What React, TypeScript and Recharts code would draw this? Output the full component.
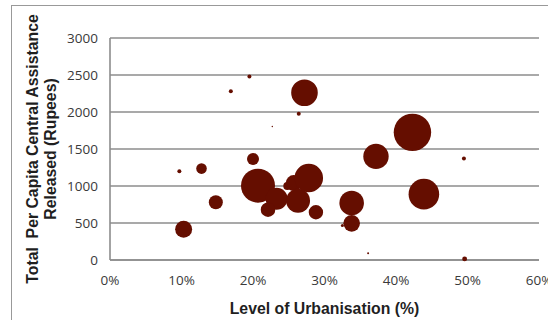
import React from 'react';
import { ScatterChart, Scatter, XAxis, YAxis, ZAxis, CartesianGrid, Label } from 'recharts';

// Level of urbanisation (%)
const urbanisation = [9.7, 12.8, 14.8, 10.3, 16.9, 19.5, 20.0, 20.7, 22.7, 27.2, 26.4, 23.3, 22.1, 24.8, 25.7, 26.3, 27.8, 28.8, 37.2, 42.3, 43.9, 33.8, 33.8, 32.5, 36.1, 49.5, 49.6];
// Total per capita central assistance released (Rupees)
const assistance = [1200, 1235, 780, 415, 2280, 2480, 1365, 1005, 1805, 2260, 1975, 828, 680, 1000, 1040, 800, 1108, 645, 1400, 1725, 890, 770, 495, 465, 90, 1370, 15];
// Bubble size (relative weight)
const bubbleSize = [4, 28, 49, 72, 4, 4, 36, 289, 0.5, 177, 4, 121, 53, 16, 64, 144, 204, 52, 161, 350, 234, 151, 69, 2.3, 1, 4, 6];

const xTicks = [0, 10, 20, 30, 40, 50, 60];
const yTicks = [0, 500, 1000, 1500, 2000, 2500, 3000];

const yTitleLine1 = 'Total  Per Capita Central Assistance';
const yTitleLine2 = 'Released (Rupees)';
const xTitle = 'Level of Urbanisation (%)';

const data = urbanisation.map((x, i) => ({ x, y: assistance[i], z: bubbleSize[i] }));

const BUBBLE = '#650e00';
const GRID = '#8c8c8c';
const titleStyle: React.CSSProperties = {
  fontFamily: '"Liberation Sans", Arial, sans-serif',
  fontWeight: 'bold',
  fontSize: 15.8,
  fill: '#1f1f1f',
  whiteSpace: 'pre',
};

const YTitle = (props: any) => {
  const vb = props.viewBox || {};
  const cy = (vb.y ?? 38) + (vb.height ?? 222) / 2;
  return (
    <g>
      <text transform={`translate(37.5, ${cy}) rotate(-90)`} textAnchor="middle" style={titleStyle} xmlSpace="preserve">
        {yTitleLine1}
      </text>
      <text transform={`translate(55.5, ${cy}) rotate(-90)`} textAnchor="middle" style={titleStyle}>
        {yTitleLine2}
      </text>
    </g>
  );
};

const XTitle = (props: any) => {
  const vb = props.viewBox || {};
  const cx = (vb.x ?? 110) + (vb.width ?? 429) / 2;
  return (
    <text x={cx} y={314} textAnchor="middle" style={titleStyle}>
      {xTitle}
    </text>
  );
};

const tickStyle = { fontFamily: '"Open Sans", sans-serif', fontSize: 13.5, fill: '#3a3a3a' };

export default function App() {
  return (
    <div style={{ position: 'absolute', left: 0, top: 0, width: 548, height: 320, overflow: 'hidden', background: '#fff' }}>
      <div
        style={{
          position: 'absolute',
          left: 11,
          top: 5,
          width: 700,
          height: 500,
          border: '1.5px solid #999',
          boxSizing: 'border-box',
        }}
      />
      <div style={{ position: 'absolute', left: 0, top: 0 }}>
        <ScatterChart width={548} height={320} margin={{ top: 38, right: 9, bottom: 0, left: 0 }}>
          <CartesianGrid vertical={false} stroke={GRID} strokeWidth={1.6} />
          <XAxis
            type="number"
            dataKey="x"
            domain={[0, 60]}
            ticks={xTicks}
            interval={0}
            tickFormatter={(v: number) => `${v}%`}
            height={60}
            axisLine={{ stroke: GRID, strokeWidth: 1.6 }}
            tickLine={false}
            tickSize={0}
            tickMargin={15}
            tick={tickStyle}
          >
            <Label content={<XTitle />} />
          </XAxis>
          <YAxis
            type="number"
            dataKey="y"
            domain={[0, 3000]}
            ticks={yTicks}
            interval={0}
            width={110}
            axisLine={{ stroke: GRID, strokeWidth: 1.6 }}
            tickLine={false}
            tickSize={0}
            tickMargin={12}
            tick={tickStyle}
          >
            <Label content={<YTitle />} />
          </YAxis>
          <ZAxis type="number" dataKey="z" domain={[0, 400]} range={[0, 400 * Math.PI]} />
          <Scatter data={data} fill={BUBBLE} stroke="none" isAnimationActive={false} />
        </ScatterChart>
      </div>
    </div>
  );
}
